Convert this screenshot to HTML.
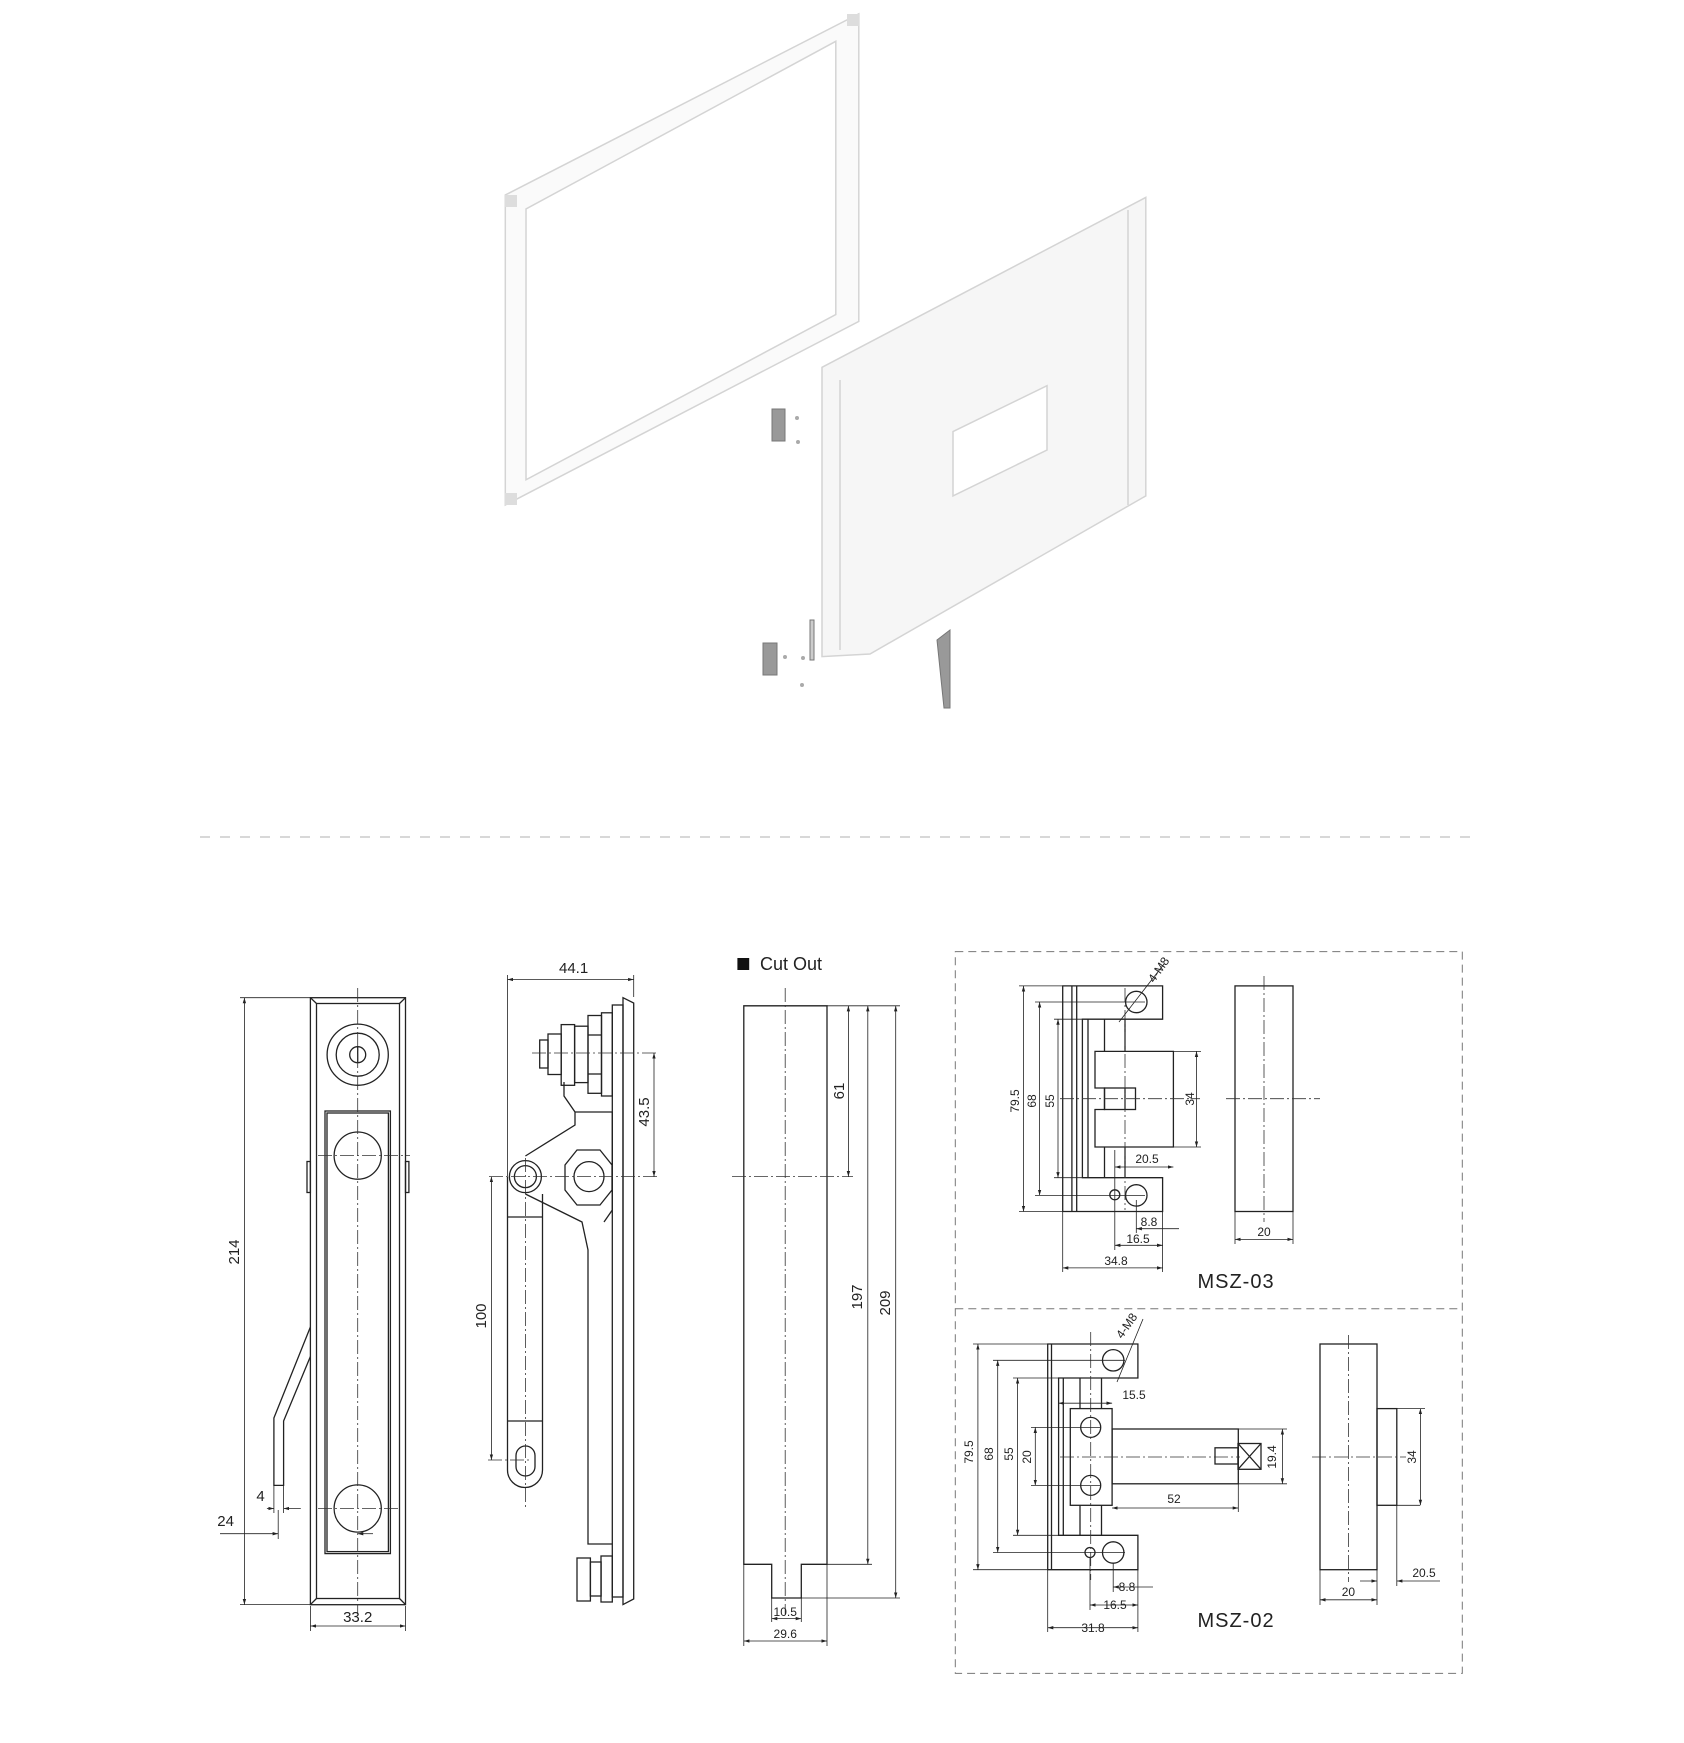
<!DOCTYPE html>
<html><head><meta charset="utf-8"><style>
html,body{margin:0;padding:0;background:#fff}
svg{display:block}
text{font-family:"Liberation Sans",sans-serif;fill:#222}
</style></head><body>
<svg width="1684" height="1743" viewBox="0 0 1684 1743" xmlns="http://www.w3.org/2000/svg">
<defs>
<marker id="a" viewBox="0 0 10 10" refX="10" refY="5" markerWidth="7" markerHeight="7" orient="auto-start-reverse"><path d="M0,2 L10,5 L0,8 z" fill="#222"/></marker>
</defs>
<!-- top illustration -->
<g stroke="#d4d4d4" stroke-width="1.5" fill="#fafafa">
<path d="M858.8,13.8 L858.8,321.4 L505.3,505 L505.3,195 Z M526,209 L526,479.8 L835.8,314.5 L835.8,41.3 Z" fill-rule="evenodd"/>
<path d="M822,367.3 L1145.8,197.4 L1145.8,495.9 L870,654 L822,656.6 Z" fill="#f6f6f6"/>
<path d="M953,431.6 L1047,385.7 L1047,450 L953,495.9 Z" fill="#fff"/>
<line x1="1128" y1="210" x2="1128" y2="505"/>
<line x1="840" y1="380" x2="840" y2="650"/>
</g>
<rect x="505" y="195" width="12" height="12" fill="#ddd"/><rect x="847" y="14" width="12" height="12" fill="#ddd"/><rect x="505" y="493" width="12" height="12" fill="#ddd"/>
<g fill="#999" stroke="#777">
<rect x="772" y="409" width="13" height="32"/><rect x="763" y="643" width="14" height="32"/>
<path d="M937,640 L950,630 L950,708 L944,708 Z"/>
<rect x="810" y="620" width="4" height="40" fill="#ccc"/>
</g>
<g fill="#aaa"><circle cx="797" cy="418" r="2"/><circle cx="798" cy="442" r="2"/><circle cx="785" cy="657" r="2"/><circle cx="803" cy="658" r="2"/><circle cx="802" cy="685" r="2"/></g>
<line x1="200" y1="837" x2="1480" y2="837" stroke="#ccc" stroke-width="1.5" stroke-dasharray="10,10"/>

<g fill="none" stroke="#222" stroke-width="1.3">
<!-- front handle -->
<rect x="310.4" y="997.7" width="95.1" height="607"/>
<rect x="316.5" y="1003.5" width="83" height="595"/>
<line x1="310.4" y1="997.7" x2="316.5" y2="1003.5"/><line x1="405.5" y1="997.7" x2="399.5" y2="1003.5"/>
<line x1="310.4" y1="1604.6" x2="316.5" y2="1598.5"/><line x1="405.5" y1="1604.6" x2="399.5" y2="1598.5"/>
<circle cx="357.7" cy="1054.7" r="30.6"/><circle cx="357.7" cy="1054.7" r="21.5"/>
<circle cx="357.7" cy="1054.7" r="8"/><line x1="357.7" y1="1047" x2="357.7" y2="1062"/>
<rect x="325" y="1111" width="65.4" height="442.6"/><rect x="327" y="1113" width="61.4" height="438.6"/>
<circle cx="357.7" cy="1155.6" r="23.6"/><circle cx="357.7" cy="1508.5" r="23.6"/>
<rect x="307" y="1161.5" width="3.4" height="31"/><rect x="405.5" y="1161.5" width="3.4" height="31"/>
<polyline points="310.4,1327 273.9,1418 273.9,1485.4 283.6,1485.4 283.6,1421 310.4,1356.5"/>
<!-- side view -->
<path d="M623,997.7 L633.7,1003 L633.7,1599 L623,1604.6 Z"/>
<rect x="612.3" y="1005" width="10.7" height="592"/>
<rect x="601.5" y="1012.8" width="10.8" height="83.2"/>
<rect x="588" y="1015.5" width="13.5" height="77.8"/>
<line x1="588" y1="1035" x2="601.5" y2="1035"/><line x1="588" y1="1074" x2="601.5" y2="1074"/>
<rect x="574.6" y="1026.2" width="13.4" height="56.4"/>
<rect x="561.2" y="1024.6" width="13.4" height="60.7"/>
<rect x="548" y="1034" width="13.2" height="40.5"/>
<rect x="539.7" y="1040" width="8.3" height="28"/>
<path d="M564,1082 L564,1096 L575,1112 L575,1125 L525.4,1156 M525.4,1194 L582,1222 L588,1250 L588,1544 L612.3,1544 M612.3,1112 L575,1112 M612.3,1112 L612.3,1128 L612.3,1210 L604,1222"/>
<path d="M589,1150 L600,1150 L612,1165 L612,1190 L600,1205 L577,1205 L565,1190 L565,1165 L577,1150 Z"/>
<circle cx="589" cy="1176.6" r="15"/>
<circle cx="525.4" cy="1176.6" r="16"/><circle cx="525.4" cy="1176.6" r="11"/>
<path d="M507.5,1176.6 L507.5,1470 A17.5,17.5 0 0 0 542.5,1470 L542.5,1194"/>
<line x1="507.5" y1="1217" x2="542.5" y2="1217"/><line x1="507.5" y1="1421" x2="542.5" y2="1421"/>
<rect x="516" y="1446" width="19" height="30" rx="9.5"/>
<rect x="577" y="1558" width="13.4" height="43"/><rect x="590.4" y="1562" width="10.7" height="34"/><rect x="601" y="1556" width="11.3" height="46"/>
<!-- cut out -->
<path d="M743.8,1005.8 L827,1005.8 L827,1564.3 L801.3,1564.3 L801.3,1598 L771.7,1598 L771.7,1564.3 L743.8,1564.3 Z"/>
<!-- MSZ-03 -->
<path d="M1062.7,985.9 L1162.6,985.9 L1162.6,1019.2 L1082.4,1019.2 L1082.4,1177.7 L1162.6,1177.7 L1162.6,1211.5 L1062.7,1211.5 Z"/>
<line x1="1071.9" y1="985.9" x2="1071.9" y2="1211.5"/><line x1="1076.7" y1="985.9" x2="1076.7" y2="1211.5"/>
<line x1="1088" y1="1019.2" x2="1088" y2="1177.7"/>
<line x1="1104.5" y1="1019.2" x2="1104.5" y2="1051.4"/><line x1="1125" y1="1019.2" x2="1125" y2="1051.4"/>
<line x1="1104.5" y1="1147" x2="1104.5" y2="1177.7"/><line x1="1125" y1="1147" x2="1125" y2="1177.7"/>
<path d="M1095,1051.4 L1173.4,1051.4 L1173.4,1147 L1095,1147 L1095,1109.5 L1104.5,1109.5 L1104.5,1088 L1095,1088 Z"/>
<rect x="1104.5" y="1088" width="31" height="21.5"/>
<line x1="1125" y1="1088" x2="1125" y2="1109.5"/>
<circle cx="1136.3" cy="1002" r="10.7"/><circle cx="1136.3" cy="1195.4" r="10.7"/><circle cx="1114.8" cy="1194.8" r="5"/>
<rect x="1235" y="985.9" width="58" height="225.6"/>
<!-- MSZ-02 -->
<path d="M1047.7,1344 L1137.9,1344 L1137.9,1378 L1058.6,1378 L1058.6,1535.3 L1137.9,1535.3 L1137.9,1569.7 L1047.7,1569.7 Z"/>
<line x1="1051.5" y1="1344" x2="1051.5" y2="1569.7"/><line x1="1063.3" y1="1378" x2="1063.3" y2="1535.3"/>
<line x1="1080" y1="1378" x2="1080" y2="1408.6"/><line x1="1101.5" y1="1378" x2="1101.5" y2="1408.6"/>
<line x1="1080" y1="1505.3" x2="1080" y2="1535.3"/><line x1="1101.5" y1="1505.3" x2="1101.5" y2="1535.3"/>
<rect x="1070.3" y="1408.6" width="41.8" height="96.7"/>
<circle cx="1090.7" cy="1427.4" r="10"/><circle cx="1090.7" cy="1485.4" r="10"/>
<circle cx="1113.2" cy="1360.3" r="10.7"/><circle cx="1113.2" cy="1552.5" r="10.7"/><circle cx="1090" cy="1552.5" r="5"/>
<rect x="1112.1" y="1429" width="126.2" height="54.8"/>
<rect x="1215" y="1447.8" width="23" height="16.2"/>
<rect x="1238" y="1443.5" width="23" height="25.8"/>
<path d="M1238,1443.5 L1261,1469.3 M1261,1443.5 L1238,1469.3"/>
<rect x="1320" y="1344" width="57" height="225.7"/>
<rect x="1377" y="1408.6" width="19.8" height="96.7"/>
</g>

<!-- center/dash lines -->
<g stroke="#333" stroke-width="0.8" stroke-dasharray="14,3,2,3" fill="none">
<line x1="357.7" y1="988" x2="357.7" y2="1614"/>
<line x1="318" y1="1155.6" x2="410" y2="1155.6"/><line x1="318" y1="1508.5" x2="398" y2="1508.5"/>
<line x1="525.4" y1="1158" x2="525.4" y2="1510"/>
<line x1="489" y1="1176.6" x2="658" y2="1176.6"/><line x1="532" y1="1053" x2="658" y2="1053"/>
<line x1="488" y1="1460" x2="530" y2="1460"/>
<line x1="785.2" y1="988" x2="785.2" y2="1614"/><line x1="732" y1="1176.6" x2="853" y2="1176.6"/>
<line x1="1125" y1="988" x2="1125" y2="1210"/><line x1="1060" y1="1098.7" x2="1200" y2="1098.7"/>
<line x1="1264" y1="976" x2="1264" y2="1222"/><line x1="1226" y1="1098.7" x2="1320" y2="1098.7"/>
<line x1="1090.7" y1="1332" x2="1090.7" y2="1580"/><line x1="1060" y1="1457" x2="1240" y2="1457"/>
<line x1="1348.4" y1="1335" x2="1348.4" y2="1582"/><line x1="1312" y1="1457" x2="1406" y2="1457"/>
</g>
<g stroke="#777" stroke-width="1" stroke-dasharray="8,5" fill="none">
<rect x="955.3" y="951.6" width="507" height="721.8"/>
<line x1="955.3" y1="1308.7" x2="1462.3" y2="1308.7"/>
</g>

<!-- dimension lines -->
<g stroke="#222" stroke-width="0.8" fill="none">
<line x1="244.4" y1="997.7" x2="244.4" y2="1604.6" marker-start="url(#a)" marker-end="url(#a)"/>
<line x1="240" y1="997.7" x2="310" y2="997.7"/><line x1="240" y1="1604.6" x2="310" y2="1604.6"/>
<line x1="310.4" y1="1626" x2="405.5" y2="1626" marker-start="url(#a)" marker-end="url(#a)"/>
<line x1="310.4" y1="1606" x2="310.4" y2="1631"/><line x1="405.5" y1="1606" x2="405.5" y2="1631"/>
<line x1="266.9" y1="1508.5" x2="273.9" y2="1508.5" marker-end="url(#a)"/><line x1="300.8" y1="1508.5" x2="283.6" y2="1508.5" marker-end="url(#a)"/>
<line x1="273.9" y1="1486" x2="273.9" y2="1513"/><line x1="283.6" y1="1486" x2="283.6" y2="1513"/>
<line x1="220" y1="1533.7" x2="278.2" y2="1533.7" marker-end="url(#a)"/><line x1="373" y1="1533.7" x2="357.7" y2="1533.7" marker-end="url(#a)"/>
<line x1="278.2" y1="1510" x2="278.2" y2="1539"/>
<line x1="507.5" y1="979.5" x2="633.7" y2="979.5" marker-start="url(#a)" marker-end="url(#a)"/>
<line x1="507.5" y1="975" x2="507.5" y2="1176"/><line x1="633.7" y1="975" x2="633.7" y2="997"/>
<line x1="654" y1="1053" x2="654" y2="1176.6" marker-start="url(#a)" marker-end="url(#a)"/>
<line x1="491.4" y1="1176.6" x2="491.4" y2="1460" marker-start="url(#a)" marker-end="url(#a)"/>
<line x1="771.7" y1="1598" x2="771.7" y2="1622"/><line x1="801.3" y1="1598" x2="801.3" y2="1622"/>
<line x1="771.7" y1="1618.6" x2="801.3" y2="1618.6" marker-start="url(#a)" marker-end="url(#a)"/>
<line x1="743.8" y1="1565" x2="743.8" y2="1646"/><line x1="827" y1="1565" x2="827" y2="1646"/>
<line x1="743.8" y1="1641" x2="827" y2="1641" marker-start="url(#a)" marker-end="url(#a)"/>
<line x1="848.4" y1="1005.8" x2="848.4" y2="1176.6" marker-start="url(#a)" marker-end="url(#a)"/>
<line x1="867.8" y1="1005.8" x2="867.8" y2="1564.3" marker-start="url(#a)" marker-end="url(#a)"/>
<line x1="895.7" y1="1005.8" x2="895.7" y2="1598" marker-start="url(#a)" marker-end="url(#a)"/>
<line x1="827" y1="1005.8" x2="900" y2="1005.8"/><line x1="827" y1="1564.3" x2="872" y2="1564.3"/><line x1="801.3" y1="1598" x2="900" y2="1598"/>
<!-- MSZ-03 dims -->
<line x1="1023.5" y1="985.9" x2="1023.5" y2="1211.5" marker-start="url(#a)" marker-end="url(#a)"/>
<line x1="1039.6" y1="1002" x2="1039.6" y2="1195.4" marker-start="url(#a)" marker-end="url(#a)"/>
<line x1="1058" y1="1019.2" x2="1058" y2="1177.7" marker-start="url(#a)" marker-end="url(#a)"/>
<line x1="1019" y1="985.9" x2="1062" y2="985.9"/><line x1="1019" y1="1211.5" x2="1062" y2="1211.5"/>
<line x1="1035" y1="1002" x2="1145" y2="1002"/><line x1="1035" y1="1195.4" x2="1145" y2="1195.4"/>
<line x1="1054" y1="1019.2" x2="1082" y2="1019.2"/><line x1="1054" y1="1177.7" x2="1082" y2="1177.7"/>
<line x1="1196.5" y1="1051.4" x2="1196.5" y2="1147" marker-start="url(#a)" marker-end="url(#a)"/>
<line x1="1173.4" y1="1051.4" x2="1201" y2="1051.4"/><line x1="1173.4" y1="1147" x2="1201" y2="1147"/>
<line x1="1114.8" y1="1167" x2="1173.4" y2="1167" marker-start="url(#a)" marker-end="url(#a)"/>
<line x1="1114.8" y1="1150" x2="1114.8" y2="1250"/><line x1="1136.3" y1="1200" x2="1136.3" y2="1233"/>
<line x1="1162.6" y1="1212" x2="1162.6" y2="1272"/><line x1="1062.7" y1="1212" x2="1062.7" y2="1272"/>
<line x1="1136.3" y1="1228.7" x2="1179" y2="1228.7" marker-start="url(#a)"/>
<line x1="1114.8" y1="1245.3" x2="1162.6" y2="1245.3" marker-start="url(#a)" marker-end="url(#a)"/>
<line x1="1062.7" y1="1267.9" x2="1162.6" y2="1267.9" marker-start="url(#a)" marker-end="url(#a)"/>
<line x1="1235" y1="1212" x2="1235" y2="1244"/><line x1="1293" y1="1212" x2="1293" y2="1244"/>
<line x1="1235" y1="1239.4" x2="1293" y2="1239.4" marker-start="url(#a)" marker-end="url(#a)"/>
<line x1="1119" y1="1022" x2="1164" y2="964"/>
<!-- MSZ-02 dims -->
<line x1="977.9" y1="1344" x2="977.9" y2="1569.7" marker-start="url(#a)" marker-end="url(#a)"/>
<line x1="997.7" y1="1360.3" x2="997.7" y2="1552.5" marker-start="url(#a)" marker-end="url(#a)"/>
<line x1="1017.6" y1="1378" x2="1017.6" y2="1535.3" marker-start="url(#a)" marker-end="url(#a)"/>
<line x1="1035.3" y1="1427.4" x2="1035.3" y2="1485.4" marker-start="url(#a)" marker-end="url(#a)"/>
<line x1="973" y1="1344" x2="1047" y2="1344"/><line x1="973" y1="1569.7" x2="1047" y2="1569.7"/>
<line x1="993" y1="1360.3" x2="1125" y2="1360.3"/><line x1="993" y1="1552.5" x2="1125" y2="1552.5"/>
<line x1="1013" y1="1378" x2="1058" y2="1378"/><line x1="1013" y1="1535.3" x2="1058" y2="1535.3"/>
<line x1="1031" y1="1427.4" x2="1100" y2="1427.4"/><line x1="1031" y1="1485.4" x2="1100" y2="1485.4"/>
<line x1="1058.6" y1="1403.2" x2="1112.1" y2="1403.2" marker-start="url(#a)" marker-end="url(#a)"/>
<line x1="1112.1" y1="1508" x2="1238.3" y2="1508" marker-start="url(#a)" marker-end="url(#a)"/>
<line x1="1238.3" y1="1484" x2="1238.3" y2="1512"/>
<line x1="1282.4" y1="1429" x2="1282.4" y2="1483.8" marker-start="url(#a)" marker-end="url(#a)"/>
<line x1="1238" y1="1429" x2="1287" y2="1429"/><line x1="1238" y1="1483.8" x2="1287" y2="1483.8"/>
<line x1="1113.2" y1="1587" x2="1153" y2="1587" marker-start="url(#a)"/>
<line x1="1090" y1="1605" x2="1137.9" y2="1605" marker-start="url(#a)" marker-end="url(#a)"/>
<line x1="1047.7" y1="1627.7" x2="1137.9" y2="1627.7" marker-start="url(#a)" marker-end="url(#a)"/>
<line x1="1047.7" y1="1570" x2="1047.7" y2="1632"/><line x1="1137.9" y1="1570" x2="1137.9" y2="1632"/>
<line x1="1090" y1="1558" x2="1090" y2="1610"/><line x1="1113.2" y1="1563" x2="1113.2" y2="1592"/>
<line x1="1117" y1="1382" x2="1143" y2="1319"/>
<line x1="1396.8" y1="1505.3" x2="1420" y2="1505.3"/><line x1="1396.8" y1="1408.6" x2="1425" y2="1408.6"/>
<line x1="1420.4" y1="1408.6" x2="1420.4" y2="1505.3" marker-start="url(#a)" marker-end="url(#a)"/>
<line x1="1396.8" y1="1505" x2="1396.8" y2="1586"/><line x1="1377" y1="1570" x2="1377" y2="1605"/><line x1="1320" y1="1570" x2="1320" y2="1605"/>
<line x1="1440" y1="1581" x2="1396.8" y2="1581" marker-end="url(#a)"/><line x1="1360" y1="1581" x2="1377" y2="1581" marker-end="url(#a)"/>
<line x1="1320" y1="1599.8" x2="1377" y2="1599.8" marker-start="url(#a)" marker-end="url(#a)"/>
</g>

<!-- labels -->
<g font-size="15" text-anchor="middle">
<text transform="translate(239,1252) rotate(-90)">214</text>
<text x="357.7" y="1622">33.2</text>
<text x="260.5" y="1501">4</text>
<text x="225.6" y="1526">24</text>
<text x="573.6" y="973">44.1</text>
<text transform="translate(649,1112) rotate(-90)">43.5</text>
<text transform="translate(486,1316) rotate(-90)">100</text>
<text transform="translate(844,1091) rotate(-90)">61</text>
<text transform="translate(862,1297) rotate(-90)">197</text>
<text transform="translate(890,1303) rotate(-90)">209</text>
</g>
<g font-size="12" text-anchor="middle">
<text x="785.2" y="1616">10.5</text>
<text x="785.2" y="1638">29.6</text>
<text transform="translate(1019,1101) rotate(-90)">79.5</text>
<text transform="translate(1036,1101) rotate(-90)">68</text>
<text transform="translate(1054,1101) rotate(-90)">55</text>
<text transform="translate(1194,1099) rotate(-90)">34</text>
<text x="1147" y="1163">20.5</text>
<text x="1149" y="1226">8.8</text>
<text x="1138" y="1243">16.5</text>
<text x="1116" y="1265">34.8</text>
<text x="1264" y="1236">20</text>
<text transform="translate(1162,972) rotate(-55)">4-M8</text>
<text transform="translate(973,1452) rotate(-90)">79.5</text>
<text transform="translate(993,1454) rotate(-90)">68</text>
<text transform="translate(1013,1454) rotate(-90)">55</text>
<text transform="translate(1031,1457) rotate(-90)">20</text>
<text x="1134" y="1399">15.5</text>
<text x="1174" y="1503">52</text>
<text transform="translate(1276,1457) rotate(-90)">19.4</text>
<text x="1127" y="1591">8.8</text>
<text x="1115" y="1609">16.5</text>
<text x="1093" y="1632">31.8</text>
<text transform="translate(1130,1328) rotate(-55)">4-M8</text>
<text transform="translate(1416,1457) rotate(-90)">34</text>
<text x="1424" y="1577">20.5</text>
<text x="1348.4" y="1596">20</text>
</g>
<rect x="737.4" y="958" width="11.8" height="12" fill="#111"/>
<text x="760" y="970" font-size="18">Cut Out</text>
<text x="1236" y="1288" font-size="20" text-anchor="middle" letter-spacing="1">MSZ-03</text>
<text x="1236" y="1627" font-size="20" text-anchor="middle" letter-spacing="1">MSZ-02</text>
</svg>
</body></html>
